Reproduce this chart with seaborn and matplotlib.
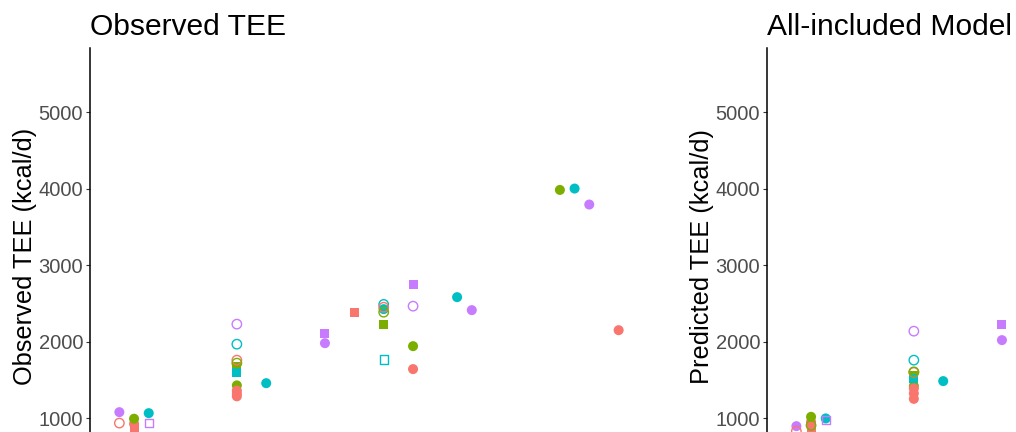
import matplotlib
matplotlib.use("Agg")
import matplotlib.pyplot as plt
import seaborn as sns
import pandas as pd

# ---------------- data ----------------
groups = ["Group 1", "Group 2", "Group 3", "Group 4"]
group_colors = ["#F8766D", "#7CAE00", "#00BFC4", "#C77CFF"]

# Observed TEE panel
obs_x = [2, 2, 3, 3, 3, 4, 4,
         10, 10, 10, 10, 10, 10, 10, 10, 10, 10,
         12, 16, 16, 18,
         20, 20, 20, 20, 20, 20,
         22, 22, 22, 22,
         25, 26, 32, 33, 34, 36]
obs_tee = [1078, 935, 870, 925, 992, 1065, 935,
           2229, 1967, 1758, 1719, 1680, 1601, 1428, 1360, 1320, 1285,
           1457, 2111, 1980, 2386,
           2487, 2450, 2425, 2385, 2229, 1765,
           2752, 2464, 1941, 1641,
           2582, 2412, 3984, 4002, 3793, 2150]
obs_group = ["Group 4", "Group 1", "Group 1", "Group 1", "Group 2", "Group 3", "Group 4",
             "Group 4", "Group 3", "Group 1", "Group 2", "Group 2", "Group 3", "Group 2", "Group 1", "Group 1", "Group 1",
             "Group 3", "Group 4", "Group 4", "Group 1",
             "Group 3", "Group 1", "Group 3", "Group 2", "Group 2", "Group 3",
             "Group 4", "Group 4", "Group 2", "Group 1",
             "Group 3", "Group 4", "Group 2", "Group 3", "Group 4", "Group 1"]
obs_shape = ["circle", "circle", "square", "circle", "circle", "circle", "square",
             "circle", "circle", "circle", "circle", "square", "square", "circle", "circle", "circle", "circle",
             "circle", "square", "circle", "square",
             "circle", "circle", "circle", "circle", "square", "square",
             "square", "circle", "circle", "circle",
             "circle", "circle", "circle", "circle", "circle", "circle"]
obs_fill = ["filled", "open", "filled", "filled", "filled", "filled", "open",
            "open", "open", "open", "open", "filled", "filled", "filled", "filled", "filled", "filled",
            "filled", "filled", "filled", "filled",
            "open", "open", "filled", "open", "filled", "open",
            "filled", "open", "filled", "filled",
            "filled", "filled", "filled", "filled", "filled", "filled"]

# All-included model panel (visible part)
pred_x = [2, 2, 3, 3, 3, 3, 4, 4,
          10, 10, 10, 10, 10, 10, 10, 10, 10, 10,
          12, 16, 16]
pred_tee = [895, 830, 860, 950, 905, 1017, 996, 974,
            2137, 1758, 1598, 1605, 1562, 1519, 1420, 1388, 1323, 1252,
            1484, 2229, 2020]
pred_group = ["Group 4", "Group 1", "Group 1", "Group 1", "Group 2", "Group 2", "Group 3", "Group 4",
              "Group 4", "Group 3", "Group 1", "Group 2", "Group 2", "Group 3", "Group 2", "Group 1", "Group 1", "Group 1",
              "Group 3", "Group 4", "Group 4"]
pred_shape = ["circle", "circle", "square", "circle", "circle", "circle", "circle", "square",
              "circle", "circle", "circle", "circle", "square", "square", "circle", "circle", "circle", "circle",
              "circle", "square", "circle"]
pred_fill = ["filled", "open", "filled", "filled", "open", "filled", "filled", "open",
             "open", "open", "open", "open", "filled", "filled", "filled", "filled", "filled", "filled",
             "filled", "filled", "filled"]

y_ticks = [1000, 2000, 3000, 4000, 5000]

# ---------------- styling ----------------
sns.set_style("ticks")
plt.rcParams["font.family"] = ["Liberation Sans", "DejaVu Sans"]
palette = dict(zip(groups, group_colors))

W, H = 1016, 432
fig = plt.figure(figsize=(W / 100, H / 100), dpi=100)

ax_w = 558
ax_top = 48
ax_bot = 464


def make_axes(left_px):
    return fig.add_axes([left_px / W, 1 - ax_bot / H, ax_w / W, (ax_bot - ax_top) / H])


def draw(ax, x, y, grp, shp, fil, title, ylabel):
    df = pd.DataFrame({"x": x, "tee": y, "group": grp, "shape": shp, "fill": fil})
    for fill in ["filled", "open"]:
        for shape, m, s in [("circle", "o", 52), ("square", "s", 42)]:
            sub = df[(df["shape"] == shape) & (df["fill"] == fill)]
            if sub.empty:
                continue
            sns.scatterplot(data=sub, x="x", y="tee", hue="group", palette=palette,
                            hue_order=groups, marker=m, s=s if fill == "filled" else s - 6,
                            linewidth=0, legend=False, ax=ax, zorder=3)
            coll = ax.collections[-1]
            if fill == "open":
                fc = coll.get_facecolors()
                coll.set_edgecolors(fc)
                coll.set_facecolors("none")
                coll.set_linewidths(1.0)
    ax.set_xlim(0, 38)
    ax.set_ylim(400, 5840)
    ax.set_yticks(y_ticks)
    ax.set_xticks([0, 10, 20, 30])
    ax.set_xlabel("")
    ax.set_ylabel(ylabel, fontsize=18.3, color="black")
    ax.yaxis.set_label_coords(-53 / ax_w, 0.5)
    ax.set_title(title, loc="left", fontsize=21.6, color="black", pad=9.4)
    for side in ["top", "right"]:
        ax.spines[side].set_visible(False)
    for side in ["left", "bottom"]:
        ax.spines[side].set_color("black")
        ax.spines[side].set_linewidth(1.1)
    ax.tick_params(axis="both", length=2.75, width=0.8, color="#333333",
                   labelsize=14.5, labelcolor="#4D4D4D", pad=2.2)
    # the x axis lies below the visible (cropped) area of the picture
    ax.tick_params(axis="x", labelbottom=False)


ax1 = make_axes(90)
draw(ax1, obs_x, obs_tee, obs_group, obs_shape, obs_fill,
     "Observed TEE", "Observed TEE (kcal/d)")
ax2 = make_axes(767)
draw(ax2, pred_x, pred_tee, pred_group, pred_shape, pred_fill,
     "All-included Model", "Predicted TEE (kcal/d)")

fig.savefig("out.png", dpi=100)
